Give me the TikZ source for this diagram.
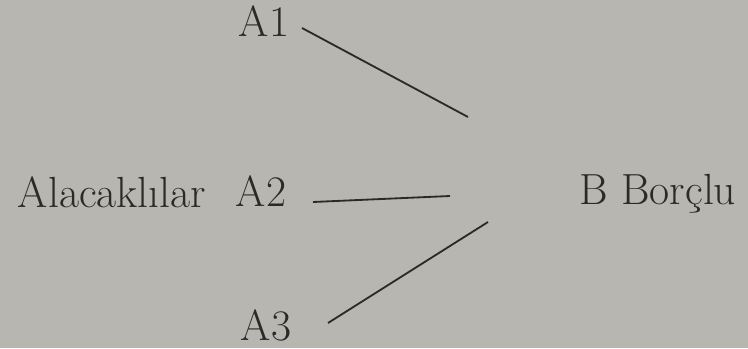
\documentclass[tikz,border=0pt]{standalone}
\usepackage{tikz}
\usetikzlibrary{positioning}
\definecolor{paper}{HTML}{B8B6B0}
\definecolor{ink}{HTML}{2B2A28}

\begin{document}
\begin{tikzpicture}[
        x=0.025cm, y=-0.025cm,
        lbl/.style={anchor=base, inner sep=0pt, text=ink, font=\fontsize{31}{37}\selectfont},
        link/.style={draw=ink, line width=1.3pt}
    ]
        % Background
        \fill[paper] (0,0) rectangle (748,348);
        \useasboundingbox (0,0) rectangle (748,348);

        % Nodes
        \node[lbl] (alacak) at (112,207) {Alacaklılar};
        \node[lbl] (a1) at (264,37) {A1};
        \node[lbl] (a2) at (261,206) {A2};
        \node[lbl] (a3) at (266,340) {A3};
        \node[lbl] (borclu) at (658,204) {B\ Borçlu};

        % Line ends
        \coordinate (s1) at (302,28);
        \coordinate (e1) at (468,117);
        \coordinate (s2) at (313,202);
        \coordinate (e2) at (450,196);
        \coordinate (s3) at (328,323);
        \coordinate (e3) at (488,222);

        % Connectors
        \draw[link] (s1) -- (e1);
        \draw[link] (s2) -- (e2);
        \draw[link] (s3) -- (e3);
    \end{tikzpicture}
\end{document}
